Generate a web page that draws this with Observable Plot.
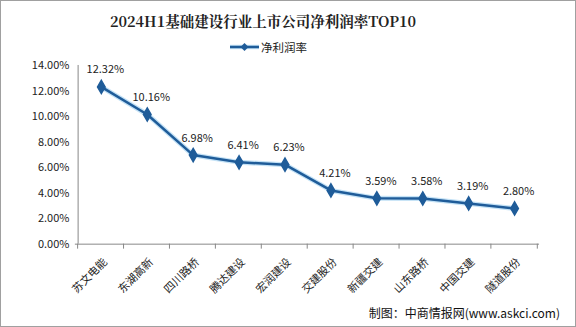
<!DOCTYPE html>
<html><head><meta charset="utf-8">
<script src="https://cdn.jsdelivr.net/npm/d3@7"></script>
<script src="https://cdn.jsdelivr.net/npm/@observablehq/plot@0.6"></script>
<style>
html,body{margin:0;padding:0;background:#fff;}
#wrap{position:relative;width:576px;height:327px;box-sizing:border-box;border:1px solid #a0a0a0;overflow:hidden;font-family:"Noto Sans CJK SC",sans-serif;}
#title{position:absolute;left:0;width:524px;top:9px;text-align:center;font-size:14.5px;font-weight:bold;color:#222;font-family:"Noto Serif CJK SC","Noto Sans CJK SC",serif;}
#legend{position:absolute;left:229px;top:38px;font-size:11.5px;color:#222;display:flex;align-items:center;}
#legend svg{margin-right:2px;}
#caption{position:absolute;right:15px;top:303px;font-size:12px;color:#111;}
#chart{position:absolute;left:-1px;top:54px;}
</style></head>
<body>
<div id="wrap">
<div id="title">2024H1基础建设行业上市公司净利润率TOP10</div>
<div id="legend"><svg width="29" height="10"><line x1="0" y1="5" x2="29" y2="5" stroke="#c4e2f6" stroke-width="4.5"/><line x1="0" y1="5" x2="29" y2="5" stroke="#1f5c99" stroke-width="2.5"/><path d="M14.5,1L18.5,5L14.5,9L10.5,5Z" fill="#1f5c99"/></svg><span>净利润率</span></div>
<div id="chart"></div>
<div id="caption">制图：中商情报网(www.askci.com)</div>
</div>
<script>
const categories = ["苏文电能","东湖高新","四川路桥","腾达建设","宏润建设","交建股份","新疆交建","山东路桥","中国交建","隧道股份"];
const values = [12.32,10.16,6.98,6.41,6.23,4.21,3.59,3.58,3.19,2.80];
const yTicks = [0,2,4,6,8,10,12,14];

const data = categories.map((c,i)=>({cat:c, v:values[i]}));
const W = 576, H = 273, ML = 75, MR = 36, MT = 10, MB = 84;
const step = (W - ML - MR) / categories.length;
const fmt = d => d.toFixed(2) + "%";

const chart = Plot.plot({
  width: W, height: H,
  marginLeft: ML, marginRight: MR, marginTop: MT, marginBottom: MB,
  style: {fontFamily: "'Noto Sans CJK SC', sans-serif", fontSize: "11px", color: "#222", background: "transparent"},
  x: {type: "point", domain: categories, padding: 0.5, axis: null},
  y: {domain: [0, 14], axis: null, label: null},
  marks: [
    Plot.axisY({ticks: yTicks, tickFormat: fmt, tickSize: 0, tickPadding: 6, fontSize: 11, fill: "#222", label: null}),
    Plot.ruleX([categories[0]], {dx: -step/2, stroke: "#888", strokeWidth: 1}),
    Plot.ruleY([0], {stroke: "#888", strokeWidth: 1}),
    Plot.text(categories, {x: d => d, y: () => 0, text: d => d, rotate: -45, textAnchor: "end", lineAnchor: "middle", dx: 4, dy: 16, fontSize: 11, fill: "#222"}),
    Plot.line(data, {x: "cat", y: "v", stroke: "#c4e2f6", strokeWidth: 5, strokeLinejoin: "round"}),
    Plot.line(data, {x: "cat", y: "v", stroke: "#1f5c99", strokeWidth: 2.5}),
    Plot.dot(data, {x: "cat", y: "v", symbol: "diamond", r: 4, fill: "#1f5c99", stroke: "#1f5c99"}),
    Plot.text(data, {x: "cat", y: "v", text: d => fmt(d.v), dy: -17, dx: 4, fontSize: 11, fill: "#222"})
  ]
});
document.getElementById("chart").appendChild(chart);

// boundary tick marks below the x axis line (computed from the scales)
const xs = chart.scale("x"), ys = chart.scale("y");
const svg = d3.select(chart);
const bounds = categories.map(c => xs.apply(c) - step/2).concat([xs.apply(categories[categories.length-1]) + step/2]);
svg.append("g").selectAll("line").data(bounds).join("line")
  .attr("x1", d => d).attr("x2", d => d)
  .attr("y1", ys.apply(0)).attr("y2", ys.apply(0) + 5)
  .attr("stroke", "#888");
</script>
</body></html>
